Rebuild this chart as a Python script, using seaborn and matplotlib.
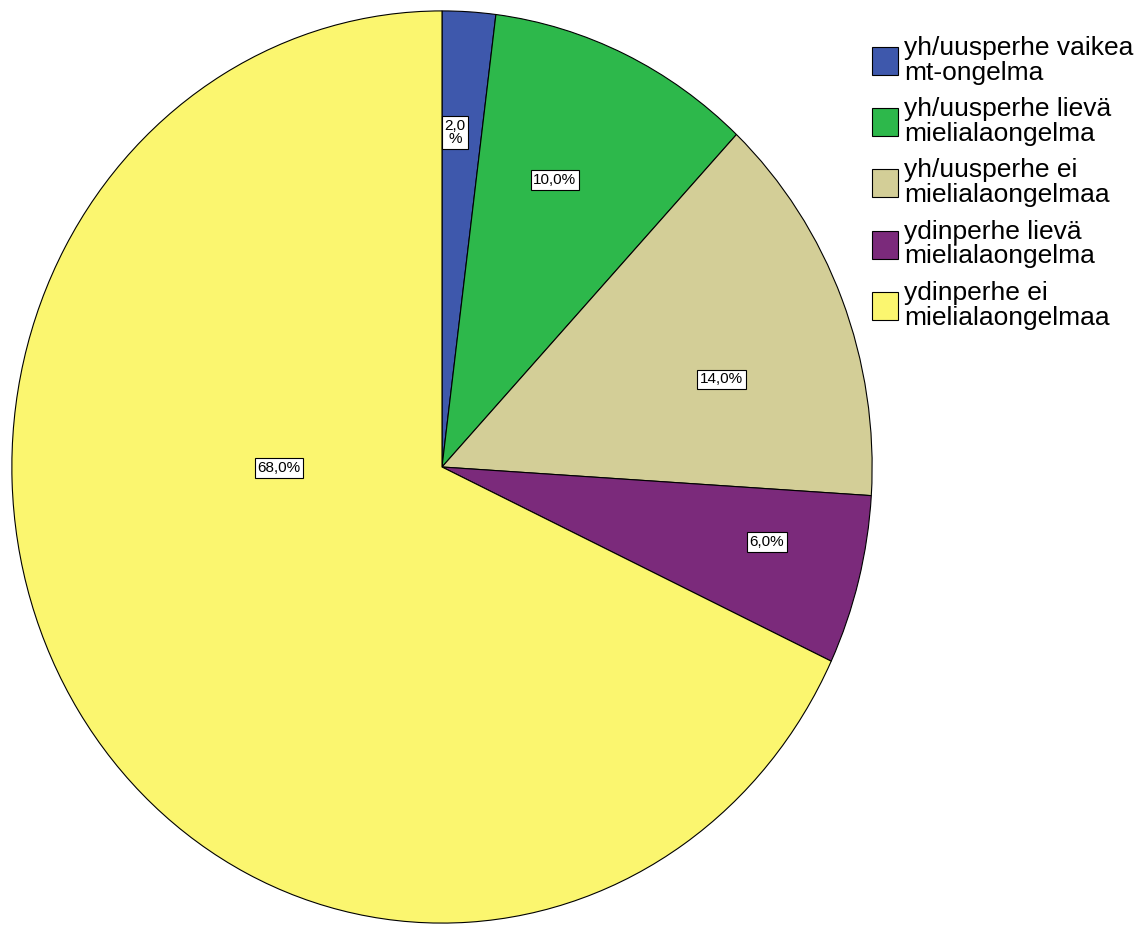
import matplotlib
matplotlib.use("Agg")
import matplotlib.pyplot as plt
import seaborn as sns

# Category labels and their shares (%)
categories = [
    "yh/uusperhe vaikea\nmt-ongelma",
    "yh/uusperhe lievä\nmielialaongelma",
    "yh/uusperhe ei\nmielialaongelmaa",
    "ydinperhe lievä\nmielialaongelma",
    "ydinperhe ei\nmielialaongelmaa",
]
shares = [2.0, 10.0, 14.0, 6.0, 68.0]
value_labels = ["2,0\n%", "10,0%", "14,0%", "6,0%", "68,0%"]

colors = sns.color_palette(["#3E58AC", "#2DB84B", "#D3CE97", "#7B2A7B", "#FBF66F"])

# Where each value label sits (axes fraction)
label_pos = [(0.515, 0.866), (0.631, 0.814), (0.824, 0.596), (0.877, 0.418), (0.311, 0.499)]

sns.set_theme(style="white")
plt.rcParams["font.family"] = ["Liberation Sans", "DejaVu Sans"]
plt.rcParams["text.color"] = "black"

fig = plt.figure(figsize=(11.43, 9.25), dpi=100)
ax = fig.add_axes([11 / 1143, 1 - 924 / 925, 862 / 1143, 914 / 925])

wedges, _ = ax.pie(
    shares,
    colors=colors,
    startangle=90,
    counterclock=False,
    wedgeprops=dict(edgecolor="black", linewidth=0.8),
)
ax.set_aspect("auto")
ax.set_xlim(-1.002, 1.002)
ax.set_ylim(-1.002, 1.002)
ax.axis("off")

for txt, (x, y) in zip(value_labels, label_pos):
    ax.text(
        x, y, txt, transform=ax.transAxes, ha="center", va="center",
        fontsize=11, linespacing=0.95, color="black",
        bbox=dict(boxstyle="square,pad=0.18", facecolor="white", edgecolor="black", linewidth=0.8),
    )

leg = fig.legend(
    wedges, categories,
    loc="upper left", bbox_to_anchor=(872 / 1143, 1 - 36 / 925),
    frameon=False, fontsize=19,
    handlelength=0.98, handleheight=1.25, handletextpad=0.25,
    labelspacing=0.48, borderpad=0, borderaxespad=0,
)
for t in leg.get_texts():
    t.set_linespacing(1.03)
    t.set_color("black")

fig.savefig("out.png", dpi=100)
